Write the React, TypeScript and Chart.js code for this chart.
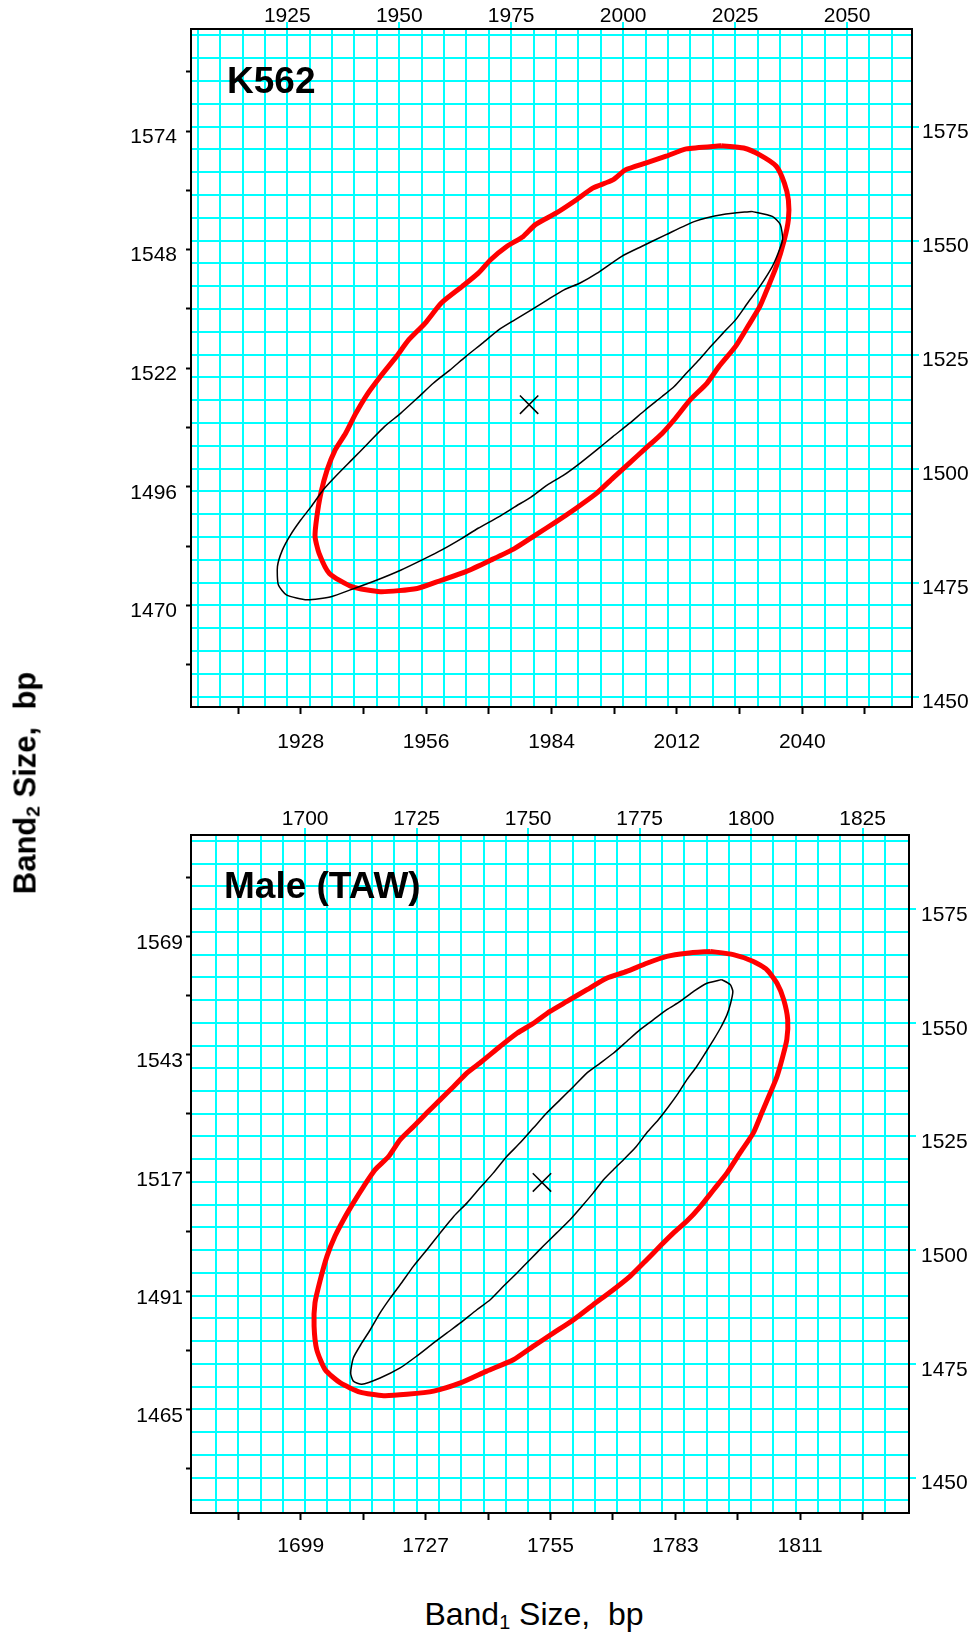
import React, { useEffect, useRef } from 'react';
import { Chart, registerables } from 'chart.js';

Chart.register(...registerables);

const FONT = '"Liberation Sans", Arial, Helvetica, sans-serif';
const CYAN = '#00ffff';

// ---------- K562 panel data ----------
const k562OuterX = [2021.9, 2014.1, 2009.6, 2005.0, 2000.5, 1997.7, 1993.2, 1989.5, 1985.0, 1980.4, 1977.7, 1974.0, 1970.4, 1967.6, 1964.0, 1959.4, 1955.8, 1952.1, 1949.4, 1945.8, 1943.0, 1940.3, 1938.0, 1935.7, 1933.9, 1932.5, 1931.6, 1931.2, 1932.1, 1934.4, 1939.4, 1945.8, 1954.0, 1959.4, 1964.9, 1970.4, 1975.8, 1980.4, 1985.0, 1989.5, 1994.1, 1997.7, 2001.4, 2005.0, 2008.7, 2011.4, 2015.0, 2018.7, 2021.4, 2025.1, 2027.8, 2030.5, 2032.4, 2034.2, 2036.0, 2036.9, 2036.9, 2036.0, 2034.2, 2030.5, 2026.9, 2021.9];
const k562OuterY = [1570.8, 1570.1, 1568.5, 1567.0, 1565.5, 1563.3, 1561.5, 1558.9, 1556.0, 1553.5, 1550.9, 1548.7, 1545.8, 1542.8, 1539.9, 1536.3, 1531.9, 1528.2, 1524.6, 1520.2, 1516.5, 1512.1, 1507.7, 1504.1, 1499.7, 1494.6, 1489.4, 1485.1, 1481.4, 1477.0, 1474.1, 1473.0, 1473.7, 1475.5, 1477.4, 1479.9, 1482.5, 1485.4, 1488.3, 1491.3, 1494.6, 1497.9, 1501.2, 1504.4, 1507.7, 1510.7, 1515.1, 1518.7, 1522.4, 1526.8, 1531.1, 1535.5, 1539.9, 1544.3, 1550.2, 1554.6, 1558.9, 1562.6, 1566.3, 1568.8, 1570.3, 1570.8];
const k562InnerX = [2028.7, 2033.3, 2035.1, 2035.6, 2034.6, 2033.3, 2030.5, 2027.8, 2025.1, 2022.3, 2019.6, 2016.9, 2014.1, 2011.4, 2008.7, 2005.0, 2001.4, 1997.7, 1994.1, 1990.4, 1986.8, 1983.1, 1979.5, 1975.8, 1972.2, 1967.6, 1964.0, 1959.4, 1955.8, 1950.3, 1944.9, 1939.4, 1934.8, 1929.4, 1924.8, 1923.0, 1922.8, 1923.9, 1925.7, 1928.0, 1930.3, 1933.0, 1935.7, 1939.4, 1943.0, 1946.7, 1950.3, 1954.0, 1957.6, 1961.3, 1964.9, 1968.6, 1972.2, 1975.8, 1979.5, 1983.1, 1986.8, 1990.4, 1994.1, 1999.6, 2004.1, 2009.6, 2016.0, 2022.3, 2028.7];
const k562InnerY = [1556.4, 1555.3, 1553.5, 1550.2, 1547.2, 1544.3, 1539.9, 1536.3, 1532.6, 1529.7, 1526.8, 1523.8, 1520.9, 1518.0, 1515.8, 1512.9, 1509.9, 1507.0, 1504.1, 1501.2, 1498.6, 1496.4, 1493.8, 1491.6, 1489.4, 1486.9, 1484.7, 1482.1, 1480.3, 1477.7, 1475.5, 1473.5, 1471.9, 1471.2, 1472.3, 1474.5, 1478.5, 1482.1, 1485.4, 1488.7, 1491.6, 1495.3, 1498.2, 1501.9, 1505.5, 1509.2, 1512.1, 1515.4, 1518.7, 1521.6, 1524.6, 1527.5, 1530.4, 1532.6, 1534.8, 1537.0, 1539.2, 1540.7, 1542.8, 1546.5, 1548.7, 1551.3, 1554.2, 1555.7, 1556.4];
const k562Center = [1979.0, 1514.0];

const k562BottomTicks = [1914, 1928, 1942, 1956, 1970, 1984, 1998, 2012, 2026, 2040, 2054];
const k562BottomLabels = [1928, 1956, 1984, 2012, 2040];
const k562LeftTicks = [1457, 1470, 1483, 1496, 1509, 1522, 1535, 1548, 1561, 1574, 1587];
const k562LeftLabels = [1470, 1496, 1522, 1548, 1574];
const k562TopLabels = [1925, 1950, 1975, 2000, 2025, 2050];
const k562RightLabels = [1450, 1475, 1500, 1525, 1550, 1575];

// ---------- Male (TAW) panel data ----------
const maleOuterX = [1790.8, 1796.0, 1800.5, 1803.5, 1805.8, 1807.3, 1808.2, 1808.0, 1806.9, 1805.8, 1804.3, 1802.4, 1800.5, 1797.5, 1794.6, 1791.6, 1788.6, 1785.6, 1782.6, 1779.6, 1776.6, 1772.9, 1769.1, 1764.6, 1760.2, 1755.7, 1751.2, 1746.7, 1740.7, 1734.8, 1728.8, 1722.8, 1717.6, 1712.3, 1707.9, 1704.5, 1702.6, 1702.0, 1702.2, 1703.4, 1704.9, 1706.7, 1708.6, 1710.8, 1713.1, 1715.7, 1718.7, 1721.3, 1724.3, 1727.3, 1730.3, 1733.3, 1736.3, 1739.6, 1743.7, 1747.5, 1751.2, 1754.9, 1758.7, 1763.2, 1767.6, 1772.1, 1776.6, 1781.1, 1785.6, 1790.8];
const maleOuterY = [1565.7, 1565.0, 1563.5, 1561.7, 1558.7, 1555.1, 1550.7, 1546.3, 1541.9, 1538.2, 1534.6, 1530.2, 1525.8, 1521.4, 1517.0, 1513.3, 1509.6, 1506.4, 1503.8, 1500.9, 1497.9, 1494.3, 1491.3, 1488.0, 1484.7, 1481.8, 1478.9, 1475.9, 1473.4, 1470.8, 1469.0, 1468.3, 1468.0, 1468.8, 1470.8, 1473.7, 1478.1, 1483.3, 1488.4, 1493.5, 1498.7, 1503.1, 1506.7, 1510.4, 1514.0, 1517.7, 1520.6, 1524.3, 1527.2, 1530.2, 1533.1, 1536.0, 1539.0, 1541.5, 1544.8, 1547.7, 1549.9, 1552.5, 1554.7, 1557.3, 1559.8, 1561.3, 1563.1, 1564.6, 1565.3, 1565.7];
const maleInnerX = [1793.4, 1795.3, 1795.9, 1795.4, 1794.6, 1793.1, 1791.6, 1789.7, 1787.8, 1785.6, 1783.7, 1781.5, 1779.2, 1776.6, 1774.0, 1771.4, 1769.1, 1766.9, 1764.6, 1762.0, 1759.4, 1756.4, 1753.4, 1750.4, 1747.5, 1744.5, 1741.5, 1738.5, 1734.8, 1731.8, 1728.8, 1725.0, 1721.3, 1716.8, 1712.7, 1710.8, 1710.2, 1710.8, 1712.7, 1714.6, 1716.8, 1719.1, 1721.3, 1724.3, 1727.3, 1730.3, 1733.3, 1736.3, 1739.2, 1742.2, 1745.2, 1748.2, 1751.2, 1754.2, 1757.2, 1760.2, 1763.2, 1766.1, 1769.1, 1772.1, 1775.1, 1778.1, 1781.1, 1784.1, 1787.1, 1790.1, 1793.4];
const maleInnerY = [1559.5, 1558.4, 1556.9, 1554.3, 1551.8, 1548.8, 1546.3, 1543.3, 1540.4, 1537.5, 1534.6, 1531.6, 1528.7, 1525.8, 1522.5, 1519.9, 1517.7, 1515.5, 1512.6, 1509.6, 1506.7, 1503.8, 1500.9, 1497.9, 1495.0, 1492.1, 1489.1, 1486.9, 1484.0, 1481.8, 1479.6, 1476.7, 1474.1, 1471.9, 1470.5, 1471.2, 1473.0, 1476.3, 1479.6, 1482.5, 1486.2, 1489.5, 1492.4, 1496.5, 1500.1, 1503.8, 1507.4, 1510.4, 1513.7, 1517.0, 1520.6, 1523.6, 1526.9, 1530.2, 1533.1, 1536.0, 1539.0, 1541.1, 1543.3, 1545.9, 1548.5, 1550.7, 1552.9, 1554.7, 1556.9, 1558.7, 1559.5];
const maleCenter = [1753.1, 1514.9];

const maleBottomTicks = [1685, 1699, 1713, 1727, 1741, 1755, 1769, 1783, 1797, 1811, 1825];
const maleBottomLabels = [1699, 1727, 1755, 1783, 1811];
const maleLeftTicks = [1452, 1465, 1478, 1491, 1504, 1517, 1530, 1543, 1556, 1569, 1582];
const maleLeftLabels = [1465, 1491, 1517, 1543, 1569];
const maleTopLabels = [1700, 1725, 1750, 1775, 1800, 1825];
const maleRightLabels = [1450, 1475, 1500, 1525, 1550, 1575];

function stepRange(a: number, b: number, s: number) {
  const out: number[] = [];
  for (let v = a; v <= b + 1e-9; v += s) out.push(v);
  return out;
}

interface Panel {
  title: string; titleDx: number; titleDy: number;
  xMin: number; xMax: number; yMin: number; yMax: number;
  outerX: number[]; outerY: number[]; innerX: number[]; innerY: number[]; center: number[];
  bottomTicks: number[]; bottomLabels: number[];
  leftTicks: number[]; leftLabels: number[];
  topGrid: number[]; topLabels: number[];
  rightGrid: number[]; rightLabels: number[];
  sizes: { top: number; bottom: number; left: number; right: number };
  pad: { bottom: number; top: number; left: number; right: number; leftOff: number; rightOff: number };
}

const k562Panel: Panel = {
  title: 'K562', titleDx: 36, titleDy: 63.5,
  xMin: 1903.5, xMax: 2064.5, yMin: 1447.7, yMax: 1596.4,
  outerX: k562OuterX, outerY: k562OuterY, innerX: k562InnerX, innerY: k562InnerY, center: k562Center,
  bottomTicks: k562BottomTicks, bottomLabels: k562BottomLabels,
  leftTicks: k562LeftTicks, leftLabels: k562LeftLabels,
  topGrid: stepRange(1905, 2060, 5), topLabels: k562TopLabels,
  rightGrid: stepRange(1450, 1595, 5), rightLabels: k562RightLabels,
  sizes: { top: 29, bottom: 73, left: 191, right: 64 },
  pad: { bottom: 16, top: -7, left: 9, right: 3, leftOff: 6, rightOff: 6 },
};

const malePanel: Panel = {
  title: 'Male (TAW)', titleDx: 33, titleDy: 63.3,
  xMin: 1674.4, xMax: 1835.4, yMin: 1442.2, yMax: 1591.3,
  outerX: maleOuterX, outerY: maleOuterY, innerX: maleInnerX, innerY: maleInnerY, center: maleCenter,
  bottomTicks: maleBottomTicks, bottomLabels: maleBottomLabels,
  leftTicks: maleLeftTicks, leftLabels: maleLeftLabels,
  topGrid: stepRange(1680, 1830, 5), topLabels: maleTopLabels,
  rightGrid: stepRange(1445, 1590, 5), rightLabels: maleRightLabels,
  sizes: { top: 55, bottom: 67, left: 191, right: 67 },
  pad: { bottom: 14, top: -4, left: 3, right: 5, leftOff: 7, rightOff: 6 },
};

const panelLabelPlugin = {
  id: 'panelLabel',
  afterDatasetsDraw(chart: any, _args: any, opts: any) {
    const { ctx, chartArea } = chart;
    ctx.save();
    ctx.font = `bold 37px ${FONT}`;
    ctx.fillStyle = '#000';
    ctx.textAlign = 'left';
    ctx.textBaseline = 'alphabetic';
    ctx.fillText(opts.text, chartArea.left + opts.dx, chartArea.top + opts.dy);
    ctx.restore();
  },
};

function buildConfig(p: Panel): any {
  const pts = (xs: number[], ys: number[]) => xs.map((x, i) => ({ x, y: ys[i] }));
  const tickFont = { family: FONT, size: 21 };
  const border = { display: true, color: '#000', width: 2 };
  const hidden = 'rgba(0,0,0,0)';
  return {
    type: 'scatter',
    data: {
      datasets: [
        {
          data: [{ x: p.center[0], y: p.center[1] }],
          showLine: false,
          pointStyle: 'crossRot',
          pointRadius: 13,
          pointBorderColor: '#000',
          pointBackgroundColor: '#000',
          pointBorderWidth: 1.5,
          xAxisID: 'x', yAxisID: 'y',
        },
        {
          data: pts(p.innerX, p.innerY),
          showLine: true, fill: false,
          borderColor: '#000', borderWidth: 1.5,
          pointRadius: 0, tension: 0.2,
          xAxisID: 'x', yAxisID: 'y',
        },
        {
          data: pts(p.outerX, p.outerY),
          showLine: true, fill: false,
          borderColor: '#ff0000', borderWidth: 5,
          pointRadius: 0, tension: 0.2,
          xAxisID: 'x', yAxisID: 'y',
        },
      ],
    },
    options: {
      animation: false,
      responsive: false,
      devicePixelRatio: 1,
      layout: { padding: 0 },
      plugins: {
        legend: { display: false },
        tooltip: { enabled: false },
        panelLabel: { text: p.title, dx: p.titleDx, dy: p.titleDy },
      },
      scales: {
        x: {
          type: 'linear', position: 'bottom', min: p.xMin, max: p.xMax, bounds: 'data',
          afterBuildTicks: (s: any) => { s.ticks = p.bottomTicks.map((v) => ({ value: v })); },
          afterFit: (s: any) => { s.height = p.sizes.bottom; },
          ticks: {
            autoSkip: false, maxRotation: 0, minRotation: 0, padding: p.pad.bottom,
            font: tickFont, color: '#000',
            callback: (v: any) => (p.bottomLabels.includes(Number(v)) ? String(v) : ''),
          },
          grid: { display: true, drawOnChartArea: false, drawTicks: true, tickLength: 7, tickColor: '#000', tickWidth: 2 },
          border,
        },
        x2: {
          type: 'linear', position: 'top', min: p.xMin, max: p.xMax, bounds: 'data',
          afterBuildTicks: (s: any) => { s.ticks = p.topGrid.map((v) => ({ value: v })); },
          afterFit: (s: any) => { s.height = p.sizes.top; },
          ticks: {
            autoSkip: false, maxRotation: 0, minRotation: 0, padding: p.pad.top,
            font: tickFont, color: '#000',
            callback: (v: any) => (p.topLabels.includes(Number(v)) ? String(v) : ''),
          },
          grid: {
            display: true, drawOnChartArea: true, drawTicks: true, tickLength: 7,
            color: CYAN, lineWidth: 2, tickWidth: 2,
            tickColor: (ctx: any) => (ctx.tick && p.topLabels.includes(ctx.tick.value) ? CYAN : hidden),
          },
          border,
        },
        y: {
          type: 'linear', position: 'left', min: p.yMin, max: p.yMax, bounds: 'data',
          afterBuildTicks: (s: any) => { s.ticks = p.leftTicks.map((v) => ({ value: v })); },
          afterFit: (s: any) => { s.width = p.sizes.left; },
          ticks: {
            autoSkip: false, padding: p.pad.left, labelOffset: p.pad.leftOff,
            font: tickFont, color: '#000',
            callback: (v: any) => (p.leftLabels.includes(Number(v)) ? String(v) : ''),
          },
          grid: { display: true, drawOnChartArea: false, drawTicks: true, tickLength: 5, tickColor: '#000', tickWidth: 2 },
          border,
        },
        y2: {
          type: 'linear', position: 'right', min: p.yMin, max: p.yMax, bounds: 'data',
          afterBuildTicks: (s: any) => { s.ticks = p.rightGrid.map((v) => ({ value: v })); },
          afterFit: (s: any) => { s.width = p.sizes.right; },
          ticks: {
            autoSkip: false, padding: p.pad.right, labelOffset: p.pad.rightOff,
            font: tickFont, color: '#000',
            callback: (v: any) => (p.rightLabels.includes(Number(v)) ? String(v) : ''),
          },
          grid: {
            display: true, drawOnChartArea: true, drawTicks: true, tickLength: 7,
            color: CYAN, lineWidth: 2, tickWidth: 2,
            tickColor: (ctx: any) => (ctx.tick && p.rightLabels.includes(ctx.tick.value) ? CYAN : hidden),
          },
          border,
        },
      },
    },
    plugins: [panelLabelPlugin],
  };
}

export default function App() {
  const topRef = useRef<HTMLCanvasElement>(null);
  const botRef = useRef<HTMLCanvasElement>(null);

  useEffect(() => {
    const c1 = new Chart(topRef.current as HTMLCanvasElement, buildConfig(k562Panel));
    const c2 = new Chart(botRef.current as HTMLCanvasElement, buildConfig(malePanel));
    return () => {
      c1.destroy();
      c2.destroy();
    };
  }, []);

  return (
    <div style={{ position: 'absolute', left: 0, top: 0, width: 976, height: 1635, background: '#fff', overflow: 'hidden' }}>
      <canvas ref={topRef} width={976} height={780} style={{ position: 'absolute', left: 0, top: 0, width: 976, height: 780 }} />
      <canvas ref={botRef} width={976} height={800} style={{ position: 'absolute', left: 0, top: 780, width: 976, height: 800 }} />
      <div
        style={{
          position: 'absolute', left: 25, top: 783,
          transform: 'translate(-50%, -50%) rotate(-90deg)',
          fontFamily: FONT, fontWeight: 'bold', fontSize: 31, lineHeight: '31px',
          whiteSpace: 'pre', color: '#000',
        }}
      >
        Band<sub style={{ fontSize: '0.62em', lineHeight: 0, verticalAlign: '-0.22em' }}>2</sub> Size,  bp
      </div>
      <div
        style={{
          position: 'absolute', left: 534, top: 1598,
          transform: 'translateX(-50%)',
          fontFamily: FONT, fontSize: 32, lineHeight: '32px',
          whiteSpace: 'pre', color: '#000',
        }}
      >
        Band<sub style={{ fontSize: '0.62em', lineHeight: 0, verticalAlign: '-0.22em' }}>1</sub> Size,  bp
      </div>
    </div>
  );
}
